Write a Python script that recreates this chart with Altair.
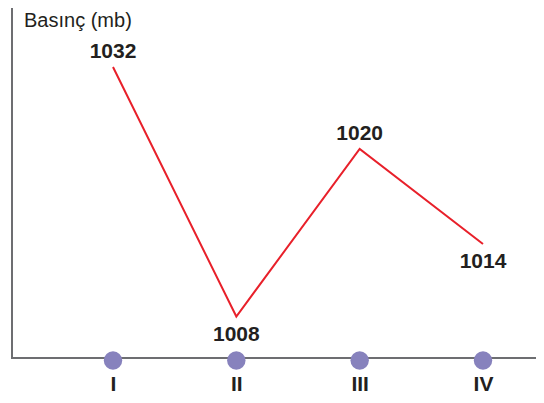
import altair as alt
import pandas as pd

# Data
gunler = ["I", "II", "III", "IV"]
basinc = [1032, 1008, 1020, 1014]

df = pd.DataFrame({"gun": gunler, "basinc": basinc})

W, H = 524, 350
FONT = "Liberation Sans"
TXT = "#231f20"
AX = "#6d6e71"

xenc = alt.X(
    "gun:N",
    sort=gunler,
    scale=alt.Scale(type="point", range=[101, 471], padding=0),
    axis=alt.Axis(
        title=None, domain=False, ticks=False, grid=False,
        labelFontSize=21, labelFontWeight="bold", labelFont=FONT,
        labelColor=TXT, labelPadding=32, labelBaseline="alphabetic",
        labelAngle=0,
    ),
)
yscale = alt.Scale(domain=[1008, 1014, 1020, 1032], range=[308.5, 236, 141, 59],
                   nice=False, zero=False)
yenc = alt.Y("basinc:Q", scale=yscale, axis=None)

base = alt.Chart(df)

yaxis = base.mark_rule(color=AX, strokeWidth=2).encode(
    x=alt.value(0), y=alt.value(0), y2=alt.value(H + 1)
)
xaxis = base.mark_rule(color=AX, strokeWidth=2).encode(
    x=alt.value(-1), x2=alt.value(W), y=alt.value(H)
)

line = base.mark_line(color="#e8202a", strokeWidth=2).encode(x=xenc, y=yenc)

dots = base.mark_circle(color="#8782bd", opacity=1, size=340).encode(
    x=xenc, y=alt.value(H + 2.5)
)

above = base.transform_filter(
    alt.FieldOneOfPredicate(field="gun", oneOf=["I", "III"])
).mark_text(font=FONT, fontSize=21, fontWeight="bold", color=TXT,
            baseline="middle", dy=-15).encode(x=xenc, y=yenc, text="basinc:Q")

below = base.transform_filter(
    alt.FieldOneOfPredicate(field="gun", oneOf=["II", "IV"])
).mark_text(font=FONT, fontSize=21, fontWeight="bold", color=TXT,
            baseline="middle", dy=18).encode(x=xenc, y=yenc, text="basinc:Q")

title = alt.Chart(pd.DataFrame({"t": ["Basınç (mb)"]})).mark_text(
    font=FONT, fontSize=20, color=TXT, align="left", baseline="alphabetic"
).encode(x=alt.value(12), y=alt.value(18.5), text="t:N")

chart = alt.layer(yaxis, xaxis, line, dots, above, below, title).properties(
    width=W, height=H,
    autosize=alt.AutoSizeParams(type="none"),
    padding={"left": 4, "top": 0, "right": 0, "bottom": 37},
    background="white",
).configure_view(strokeWidth=0)

chart.save("out.html", embed_options={"renderer": "svg", "actions": False})
